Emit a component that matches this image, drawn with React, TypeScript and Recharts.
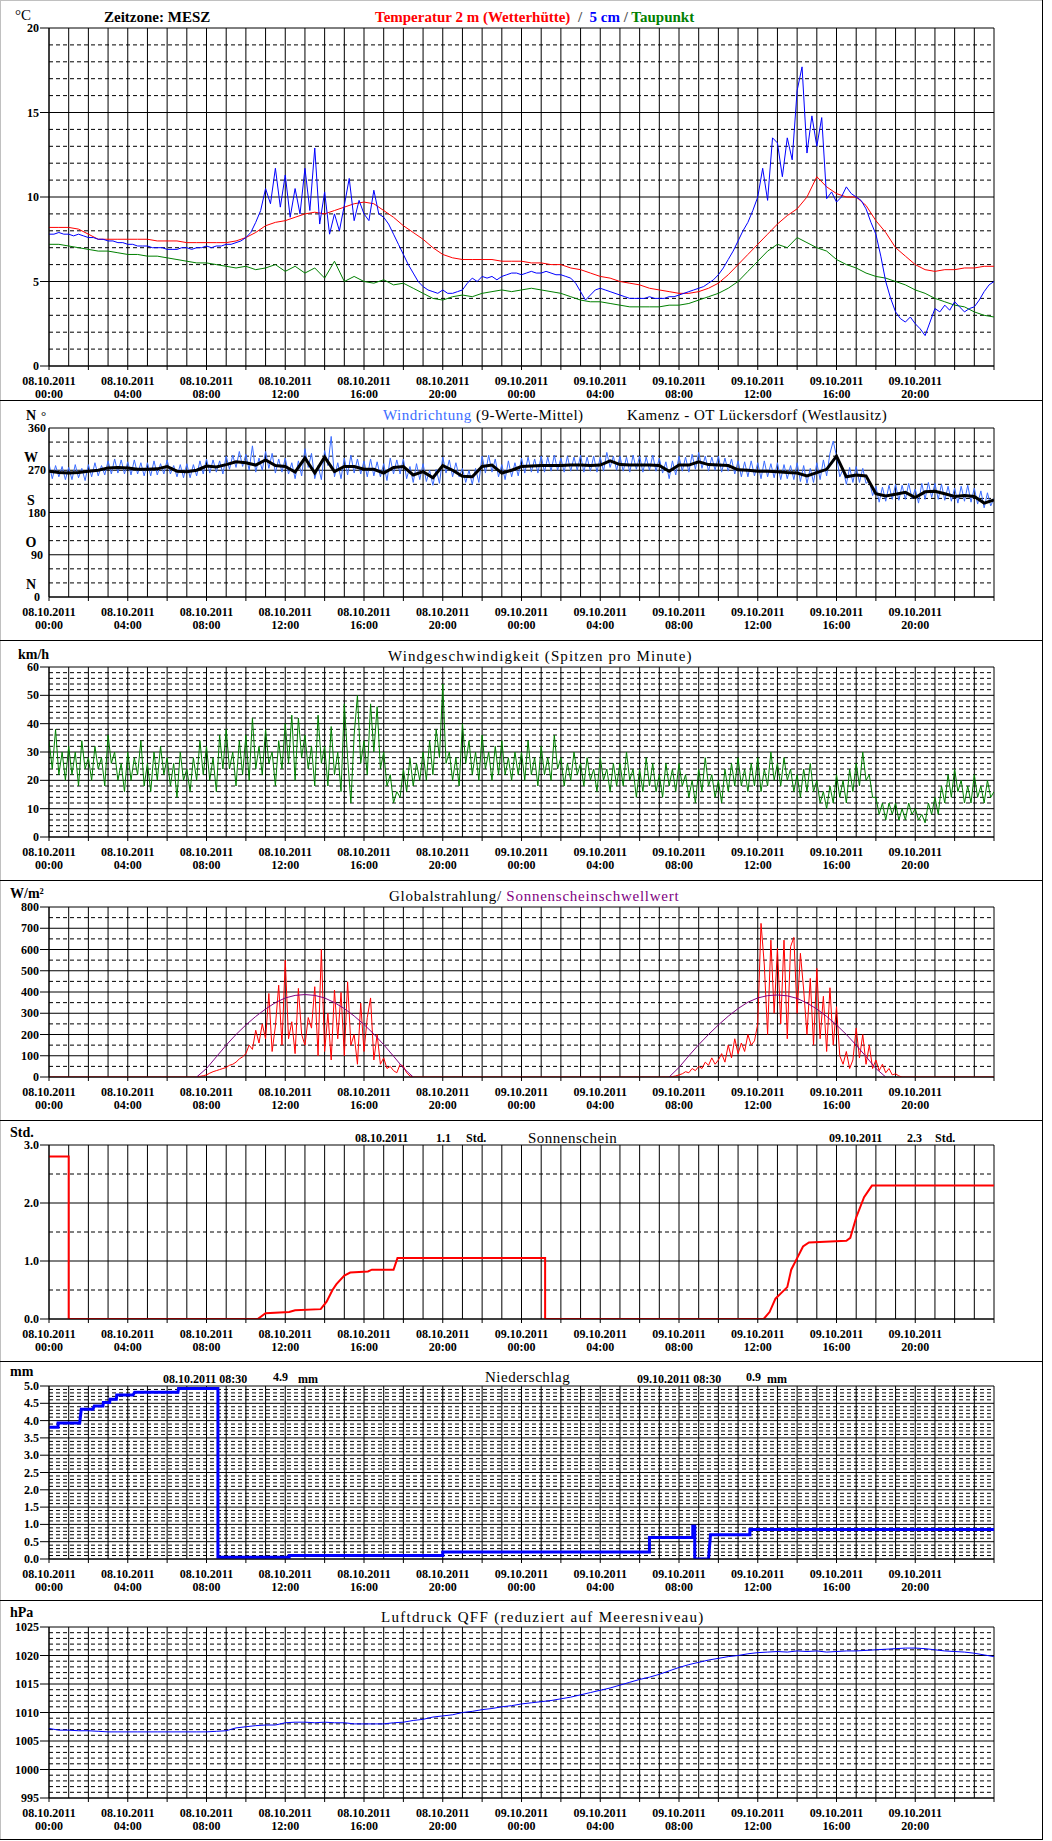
import React from "react";
import { LineChart, Line, XAxis, YAxis, CartesianGrid } from "recharts";

const FONT = '"Liberation Serif", "Times New Roman", serif';
const W = 1052;

// time axis in hours since 08.10.2011 00:00 (MESZ)
const HOURS = Array.from({ length: 49 }, (_, i) => i);
const TICK_HOURS = HOURS.filter((h) => h % 2 === 0);
const DAYS = ["08.10.2011", "09.10.2011"];

// Temperatur 2 m, every 30 min
const temp2m = [
  8.2, 8.2, 8.2, 8.1, 7.8, 7.5, 7.5, 7.5, 7.5, 7.5, 7.5, 7.4, 7.4, 7.4, 7.3, 7.3,
  7.3, 7.3, 7.3, 7.4, 7.6, 7.9, 8.3, 8.5, 8.6, 8.8, 9.0, 9.1, 9.0, 9.2, 9.4, 9.6,
  9.7, 9.6, 9.2, 8.8, 8.3, 7.9, 7.5, 7.0, 6.6, 6.4, 6.3, 6.3, 6.3, 6.3, 6.2, 6.2,
  6.2, 6.1, 6.1, 6.0, 6.0, 5.8, 5.7, 5.5, 5.3, 5.2, 5.0, 4.9, 4.8, 4.6, 4.5, 4.4,
  4.3, 4.3, 4.4, 4.6, 4.9, 5.4, 6.0, 6.6, 7.2, 7.8, 8.4, 8.9, 9.3, 10.0, 11.2, 10.6,
  10.2, 10.0, 10.0, 9.5, 8.6, 7.9, 7.0, 6.5, 6.0, 5.7, 5.6, 5.7, 5.7, 5.8, 5.8, 5.9,
  5.9,
];

// Temperatur 5 cm, every 15 min
const temp5cm = [
  7.8, 7.8, 7.9, 7.8, 7.8, 7.7, 7.8, 7.7, 7.6, 7.6, 7.5, 7.5, 7.4, 7.4, 7.3, 7.3,
  7.2, 7.2, 7.1, 7.1, 7.1, 7.0, 7.0, 7.0, 6.9, 6.9, 6.9, 7.0, 7.0, 6.9, 7.0, 7.0,
  7.1, 7.0, 7.1, 7.1, 7.2, 7.2, 7.3, 7.4, 7.6, 7.9, 8.5, 9.2, 10.5, 9.6, 11.7, 9.4,
  11.3, 8.8, 10.5, 9.0, 11.7, 9.2, 12.9, 8.4, 10.3, 7.8, 9.0, 8.0, 9.5, 11.1, 8.6, 9.8,
  9.0, 8.6, 10.4, 9.0, 8.8, 8.4, 7.8, 7.2, 6.6, 6.0, 5.5, 5.0, 4.7, 4.5, 4.4, 4.3,
  4.5, 4.3, 4.3, 4.4, 4.5, 4.9, 5.2, 5.0, 5.3, 5.2, 5.3, 5.1, 5.3, 5.4, 5.5, 5.5,
  5.4, 5.5, 5.6, 5.5, 5.5, 5.6, 5.5, 5.4, 5.4, 5.3, 5.2, 4.9, 4.4, 3.9, 4.2, 4.5,
  4.6, 4.5, 4.4, 4.3, 4.2, 4.1, 4.0, 4.0, 4.0, 4.0, 4.1, 4.0, 4.0, 4.0, 4.1, 4.1,
  4.2, 4.3, 4.4, 4.5, 4.6, 4.7, 4.9, 5.1, 5.4, 5.8, 6.3, 6.8, 7.4, 8.0, 8.5, 9.2,
  10.0, 11.7, 9.8, 13.5, 13.2, 11.2, 13.5, 12.2, 16.3, 17.7, 12.6, 14.8, 13.0, 14.7, 9.9, 10.3,
  9.7, 10.0, 10.6, 10.2, 10.0, 9.8, 9.3, 8.5, 7.8, 6.5, 5.0, 4.0, 3.2, 2.8, 2.6, 2.9,
  2.5, 2.2, 1.8, 2.6, 3.4, 3.2, 3.6, 3.3, 3.8, 3.5, 3.2, 3.4, 3.5, 3.9, 4.4, 4.8,
  5.0,
];

// Taupunkt, every 30 min
const dewPoint = [
  7.2, 7.2, 7.1, 7.0, 6.9, 6.8, 6.8, 6.7, 6.6, 6.6, 6.5, 6.5, 6.4, 6.3, 6.2, 6.1,
  6.1, 6.0, 5.9, 5.8, 5.9, 5.7, 5.8, 6.0, 5.6, 5.9, 5.5, 5.8, 5.2, 6.2, 5.0, 5.3,
  5.0, 4.9, 5.1, 4.8, 4.9, 4.6, 4.3, 4.0, 3.9, 4.1, 4.2, 4.1, 4.3, 4.4, 4.5, 4.4,
  4.5, 4.6, 4.5, 4.4, 4.3, 4.1, 3.9, 3.8, 3.8, 3.7, 3.6, 3.5, 3.5, 3.5, 3.5, 3.6,
  3.6, 3.7, 3.9, 4.1, 4.3, 4.6, 5.0, 5.6, 6.2, 6.8, 7.2, 7.0, 7.6, 7.3, 7.0, 6.8,
  6.3, 6.0, 5.8, 5.5, 5.3, 5.2, 5.0, 4.8, 4.5, 4.3, 4.0, 3.8, 3.6, 3.5, 3.2, 3.0,
  2.9,
];

// Windrichtung 9-Werte-Mittel, every 30 min
const windDirMean = [
  268, 265, 264, 265, 268, 270, 275, 276, 275, 272, 272, 273, 278, 268, 267, 270,
  279, 277, 282, 288, 286, 281, 292, 280, 278, 266, 296, 264, 298, 267, 278, 278,
  272, 272, 264, 276, 278, 260, 267, 254, 280, 270, 257, 256, 278, 281, 264, 270,
  278, 279, 280, 280, 280, 281, 281, 280, 281, 290, 282, 281, 281, 281, 280, 268,
  281, 281, 288, 282, 281, 280, 271, 270, 268, 268, 267, 265, 264, 258, 265, 272,
  300, 256, 260, 258, 220, 215, 219, 223, 212, 224, 225, 220, 214, 216, 214, 200,
  207,
];

// Windrichtung Einzelwerte, every 10 min
const windDirRaw = [
  284, 252, 280, 256, 278, 250, 276, 250, 282, 254, 274, 248,
  282, 256, 286, 258, 280, 260, 290, 262, 294, 264, 292, 262,
  288, 260, 292, 262, 286, 258, 286, 258, 290, 260, 284, 262,
  292, 262, 280, 256, 282, 254, 284, 254, 282, 258, 290, 262,
  294, 264, 292, 266, 290, 262, 300, 272, 302, 276, 310, 278,
  304, 270, 322, 266, 296, 270, 310, 274, 306, 264, 294, 266,
  296, 262, 286, 252, 290, 258, 316, 276, 306, 252, 280, 250,
  312, 280, 342, 256, 286, 252, 296, 260, 302, 264, 294, 262,
  290, 256, 294, 258, 288, 256, 284, 248, 296, 262, 292, 262,
  294, 252, 278, 244, 284, 250, 284, 246, 270, 238, 272, 242,
  298, 264, 292, 256, 286, 256, 274, 244, 270, 240, 274, 244,
  300, 264, 302, 266, 294, 256, 282, 250, 290, 256, 286, 258,
  296, 264, 298, 266, 294, 264, 300, 266, 298, 268, 302, 270,
  296, 266, 300, 268, 298, 270, 302, 266, 298, 268, 300, 266,
  298, 268, 308, 276, 300, 270, 300, 268, 298, 266, 302, 272,
  300, 266, 298, 270, 302, 268, 296, 264, 288, 252, 290, 260,
  300, 268, 298, 266, 304, 272, 308, 274, 300, 268, 298, 270,
  300, 266, 296, 268, 294, 262, 290, 256, 288, 256, 290, 258,
  286, 252, 290, 256, 284, 254, 286, 250, 282, 252, 280, 250,
  286, 246, 280, 242, 274, 244, 286, 250, 292, 258, 306, 332,
  300, 256, 272, 240, 276, 244, 278, 244, 274, 242, 248, 216,
  236, 202, 234, 204, 238, 208, 240, 206, 238, 208, 242, 210,
  230, 200, 242, 208, 244, 212, 242, 208, 240, 206, 236, 204,
  232, 200, 236, 204, 238, 202, 232, 198, 226, 190, 222, 194,
  210,
];

// Windgeschwindigkeit (Spitzen pro Minute), every 10 min
const windSpeed = [
  34, 24, 38, 22, 30, 20, 32, 22, 30, 18, 34, 24,
  28, 20, 32, 24, 28, 18, 36, 26, 30, 20, 26, 16,
  30, 20, 28, 22, 34, 18, 26, 16, 30, 20, 32, 22,
  28, 18, 26, 14, 30, 20, 24, 16, 28, 20, 34, 22,
  32, 20, 28, 16, 36, 24, 38, 24, 30, 18, 34, 22,
  36, 20, 42, 24, 32, 22, 38, 26, 30, 18, 34, 24,
  40, 26, 43, 20, 42, 28, 36, 24, 32, 18, 43, 26,
  32, 18, 39, 22, 30, 16, 47, 28, 12, 36, 50, 26,
  34, 22, 47, 30, 46, 24, 30, 18, 22, 12, 16, 14,
  24, 16, 28, 18, 26, 20, 30, 20, 34, 22, 38, 28,
  54, 26, 30, 20, 28, 18, 40, 26, 34, 22, 30, 20,
  36, 24, 30, 20, 32, 22, 34, 22, 28, 20, 30, 22,
  30, 20, 34, 22, 28, 18, 32, 22, 28, 20, 36, 24,
  28, 18, 26, 20, 30, 22, 26, 18, 28, 20, 24, 16,
  28, 20, 24, 16, 26, 18, 26, 18, 30, 20, 24, 14,
  24, 16, 28, 18, 26, 16, 22, 14, 26, 18, 24, 16,
  26, 18, 22, 14, 20, 12, 24, 16, 28, 18, 22, 14,
  20, 12, 24, 16, 26, 18, 28, 18, 24, 16, 26, 18,
  28, 16, 24, 18, 30, 20, 26, 18, 28, 20, 24, 16,
  22, 14, 24, 16, 26, 16, 20, 12, 16, 10, 18, 12,
  22, 14, 20, 12, 24, 16, 26, 18, 30, 20, 22, 14,
  14, 8, 12, 6, 12, 8, 12, 6, 10, 6, 12, 8,
  10, 6, 8, 5, 12, 8, 14, 8, 18, 12, 22, 14,
  24, 16, 20, 12, 18, 12, 22, 14, 18, 12, 20, 14,
  16,
];

// Globalstrahlung, every 10 min from 07:30 (day 1) and 07:30 (day 2)
const radiationDay1 = [
  0, 3, 6,
  10, 18, 25, 30, 35, 40,
  45, 55, 60, 70, 85, 95,
  110, 150, 130, 220, 160, 250,
  180, 393, 120, 240, 432, 150,
  550, 180, 260, 110, 417, 200,
  150, 280, 230, 425, 100, 600,
  120, 300, 80, 409, 180, 398,
  100, 448, 150, 200, 60, 348,
  120, 280, 372, 80, 200, 60,
  90, 40, 50, 30, 20, 60,
  50, 20, 5, 0,
];
const radiationDay2 = [
  0, 2, 5,
  10, 15, 25, 20, 40, 30,
  50, 40, 70, 55, 90, 60,
  80, 110, 70, 150, 90, 180,
  110, 160, 120, 200, 150, 170,
  250, 723, 527, 200, 644, 300,
  605, 250, 644, 180, 613, 657,
  300, 582, 409, 200, 464, 150,
  511, 180, 380, 120, 420, 150,
  331, 100, 60, 120, 40, 80,
  230, 90, 200, 60, 150, 40,
  80, 30, 60, 20, 40, 10,
  15, 5, 0,
];

// Sonnenscheinschwellwert, every 30 min from 07:30
const thresholdDay1 = [0, 40, 95, 150, 200, 245, 285, 320, 350, 372, 384, 388, 384, 372, 350, 322, 287, 247, 202, 152, 98, 42, 0];
const thresholdDay2 = [0, 45, 100, 152, 200, 245, 286, 322, 352, 372, 383, 386, 382, 370, 348, 320, 285, 245, 200, 150, 96, 40, 0];

// Sonnenschein summe [hour, Std.]
const sunshine = [
  [0, 2.8], [1.0, 2.8], [1.0, 0], [10.6, 0], [11.0, 0.1], [12.2, 0.12], [12.5, 0.15],
  [13.8, 0.17], [14.1, 0.3], [14.4, 0.5], [14.6, 0.6], [15.0, 0.75], [15.3, 0.8],
  [16.2, 0.82], [16.4, 0.85], [17.5, 0.85], [17.7, 1.05], [25.2, 1.05], [25.2, 0],
  [36.3, 0], [36.6, 0.12], [36.9, 0.35], [37.2, 0.45], [37.5, 0.55], [37.7, 0.85],
  [38.0, 1.05], [38.3, 1.25], [38.6, 1.32], [40.5, 1.35], [40.7, 1.4], [41.0, 1.75],
  [41.4, 2.1], [41.8, 2.3], [48, 2.3],
];

// Niederschlag summe [hour, mm]
const precipitation = [
  [0, 3.81], [0.46, 3.81], [0.46, 3.93], [1.56, 3.93], [1.64, 4.33], [2.23, 4.33],
  [2.3, 4.42], [2.74, 4.42], [2.76, 4.52], [3.08, 4.52], [3.1, 4.62], [3.42, 4.62],
  [3.44, 4.74], [4.27, 4.74], [4.35, 4.82], [6.55, 4.82], [6.58, 4.93], [8.58, 4.93],
  [8.58, 0.05], [12.2, 0.05], [12.2, 0.1], [20, 0.1], [20, 0.2], [30.5, 0.2],
  [30.5, 0.62], [32.7, 0.62], [32.7, 0.95], [32.8, 0.95], [32.8, 0], [33.5, 0],
  [33.6, 0.7], [35.6, 0.7], [35.6, 0.85], [48, 0.85],
];

// Luftdruck QFF, every 30 min
const pressure = [
  1007.2, 1006.9, 1006.9, 1006.8, 1006.8, 1006.7, 1006.6, 1006.6, 1006.6, 1006.6, 1006.6, 1006.6,
  1006.6, 1006.6, 1006.6, 1006.6, 1006.6, 1006.7, 1006.8, 1007.3, 1007.5, 1007.7, 1007.8, 1007.8,
  1008.2, 1008.3, 1008.3, 1008.2, 1008.3, 1008.2, 1008.2, 1008.0, 1008.0, 1008.0, 1008.0, 1008.2,
  1008.3, 1008.6, 1008.8, 1009.2, 1009.4, 1009.6, 1010.0, 1010.2, 1010.5, 1010.7, 1011.0, 1011.2,
  1011.5, 1011.7, 1011.9, 1012.1, 1012.4, 1012.7, 1013.1, 1013.5, 1013.9, 1014.3, 1014.8, 1015.3,
  1015.8, 1016.2, 1016.7, 1017.3, 1017.9, 1018.4, 1018.8, 1019.2, 1019.5, 1019.8, 1020.0, 1020.3,
  1020.5, 1020.6, 1020.7, 1020.6, 1020.8, 1020.7, 1020.8, 1020.6, 1020.7, 1020.8, 1020.8, 1020.9,
  1021.0, 1021.1, 1021.2, 1021.3, 1021.3, 1021.2, 1021.0, 1020.8, 1020.7, 1020.6, 1020.4, 1020.1,
  1019.8,
];

const toSeries = (vals: number[], step: number, start = 0) =>
  vals.map((v, i) => ({ t: start + i * step, v }));
const toPoints = (pairs: number[][]) => pairs.map(([t, v]) => ({ t, v }));

const steps = (a: number, b: number, s: number) => {
  const out: number[] = [];
  for (let i = 0; a + i * s <= b + 1e-9; i++) out.push(+(a + i * s).toFixed(3));
  return out;
};
const minorOf = (a: number, b: number, s: number, major: number[]) =>
  steps(a, b, s).filter((v) => !major.some((m) => Math.abs(m - v) < 1e-6));

function TimeTick({ x, y, payload }: any) {
  const h = payload.value;
  if (h % 4 !== 0 || h >= 48) return <g />;
  const hh = String(h % 24).padStart(2, "0") + ":00";
  const st = { fontFamily: FONT, fontSize: 12, fontWeight: "bold" as const, fill: "#000" };
  return (
    <g>
      <text x={x} y={y + 13} textAnchor="middle" {...st}>{DAYS[Math.floor(h / 24)]}</text>
      <text x={x} y={y + 26} textAnchor="middle" {...st}>{hh}</text>
    </g>
  );
}

type PanelProps = {
  top: number;
  bottom: number;
  plotTop: number;
  plotBottom: number;
  domain: [number, number];
  major: number[];
  minor: number[];
  fmt: (v: number) => string;
  letters?: Record<number, string>;
  children: React.ReactNode;
};

function Panel({ top, bottom, plotTop, plotBottom, domain, major, minor, fmt, letters, children }: PanelProps) {
  const height = bottom - top;
  const yTick = ({ y, payload }: any) => {
    const st = { fontFamily: FONT, fontSize: 12, fontWeight: "bold" as const, fill: "#000" };
    if (letters) {
      return (
        <g>
          <text x={31} y={y - 8} textAnchor="middle" {...st} fontSize={14}>{letters[payload.value]}</text>
          <text x={37} y={y + 4} textAnchor="middle" {...st}>{fmt(payload.value)}</text>
        </g>
      );
    }
    return <text x={39} y={y + 4} textAnchor="end" {...st}>{fmt(payload.value)}</text>;
  };
  return (
    <div style={{ position: "absolute", left: 0, top, width: W, height }}>
      <LineChart width={W} height={height} margin={{ top: plotTop - top, right: 58, bottom: 0, left: 0 }}>
        <CartesianGrid horizontalValues={minor} vertical={false} stroke="#000" strokeDasharray="4 3" />
        <CartesianGrid horizontalValues={major} verticalValues={HOURS} stroke="#000" />
        <XAxis
          type="number"
          dataKey="t"
          domain={[0, 48]}
          ticks={TICK_HOURS}
          interval={0}
          height={bottom - plotBottom}
          tickSize={4}
          axisLine={{ stroke: "#000" }}
          tickLine={{ stroke: "#000" }}
          tick={<TimeTick />}
          allowDataOverflow
        />
        <YAxis
          type="number"
          domain={domain}
          ticks={major}
          interval={0}
          width={49}
          tickSize={letters ? 0 : 9}
          axisLine={{ stroke: "#000" }}
          tickLine={{ stroke: "#000" }}
          tick={yTick}
          allowDataOverflow
        />
        {children}
      </LineChart>
    </div>
  );
}

const lineProps = { type: "linear" as const, dataKey: "v", dot: false, isAnimationActive: false, activeDot: false };

export default function App() {
  const tMajor = [0, 5, 10, 15, 20];
  const dMajor = [0, 90, 180, 270, 360];
  const sMajor = steps(0, 60, 10);
  const rMajor = steps(0, 800, 100);
  const shMajor = [0, 1, 2, 3];
  const pMajor = steps(0, 5, 0.5);
  const qMajor = steps(995, 1025, 5);

  const radiation = [
    { t: 0, v: 0 },
    ...toSeries(radiationDay1, 1 / 6, 7.5),
    ...toSeries(radiationDay2, 1 / 6, 31.5),
    { t: 48, v: 0 },
  ];

  const txt = { fontFamily: FONT, fill: "#000" };
  const title = { ...txt, fontSize: 15, letterSpacing: 0.5 };
  const bold12 = { ...txt, fontSize: 12, fontWeight: "bold" as const };
  const unit = { ...txt, fontSize: 14, fontWeight: "bold" as const };

  return (
    <div style={{ position: "relative", width: W, height: 1841, background: "#fff", overflow: "hidden" }}>
      <style>{"body{margin:0}"}</style>

      <Panel top={0} bottom={400} plotTop={28} plotBottom={366} domain={[0, 20]} major={tMajor}
        minor={minorOf(0, 20, 1, tMajor)} fmt={(v) => String(v)}>
        <Line {...lineProps} data={toSeries(temp2m, 0.5)} stroke="#ff0000" strokeWidth={1} />
        <Line {...lineProps} data={toSeries(dewPoint, 0.5)} stroke="#008000" strokeWidth={1} />
        <Line {...lineProps} data={toSeries(temp5cm, 0.25)} stroke="#0000ff" strokeWidth={1} />
      </Panel>

      <Panel top={400} bottom={640} plotTop={428} plotBottom={597} domain={[0, 360]} major={dMajor}
        minor={minorOf(0, 360, 30, dMajor)} fmt={(v) => String(v)}
        letters={{ 360: "N", 270: "W", 180: "S", 90: "O", 0: "N" }}>
        <Line {...lineProps} data={toSeries(windDirRaw, 1 / 6)} stroke="#3a6cff" strokeWidth={1} />
        <Line {...lineProps} data={toSeries(windDirMean, 0.5)} stroke="#000" strokeWidth={3} />
      </Panel>

      <Panel top={640} bottom={880} plotTop={667} plotBottom={837} domain={[0, 60]} major={sMajor}
        minor={minorOf(0, 60, 2, sMajor)} fmt={(v) => String(v)}>
        <Line {...lineProps} data={toSeries(windSpeed, 1 / 6)} stroke="#008000" strokeWidth={1} />
      </Panel>

      <Panel top={880} bottom={1120} plotTop={907} plotBottom={1077} domain={[0, 800]} major={rMajor}
        minor={minorOf(0, 800, 50, rMajor)} fmt={(v) => String(v)}>
        <Line {...lineProps} data={radiation} stroke="#ff0000" strokeWidth={1} />
        <Line {...lineProps} data={toSeries(thresholdDay1, 0.5, 7.5)} stroke="#800080" strokeWidth={1} />
        <Line {...lineProps} data={toSeries(thresholdDay2, 0.5, 31.5)} stroke="#800080" strokeWidth={1} />
      </Panel>

      <Panel top={1120} bottom={1361} plotTop={1145} plotBottom={1319} domain={[0, 3]} major={shMajor}
        minor={minorOf(0, 3, 0.5, shMajor)} fmt={(v) => v.toFixed(1)}>
        <Line {...lineProps} data={toPoints(sunshine)} stroke="#ff0000" strokeWidth={2} />
      </Panel>

      <Panel top={1361} bottom={1600} plotTop={1386} plotBottom={1559} domain={[0, 5]} major={pMajor}
        minor={minorOf(0, 5, 0.1, pMajor)} fmt={(v) => v.toFixed(1)}>
        <Line {...lineProps} data={toPoints(precipitation)} stroke="#0000ff" strokeWidth={3} />
      </Panel>

      <Panel top={1600} bottom={1840} plotTop={1627} plotBottom={1798} domain={[995, 1025]} major={qMajor}
        minor={minorOf(995, 1025, 1, qMajor)} fmt={(v) => String(v)}>
        <Line {...lineProps} data={toSeries(pressure, 0.5)} stroke="#0000ff" strokeWidth={1} />
      </Panel>

      <svg width={W} height={1841} style={{ position: "absolute", left: 0, top: 0, pointerEvents: "none" }}>
        <rect x={0.5} y={0.5} width={1042} height={1839} fill="none" stroke="#c0c0c0" />
        {[400, 640, 880, 1120, 1361, 1600, 1839].map((y) => (
          <line key={y} x1={0} x2={1043} y1={y + 0.5} y2={y + 0.5} stroke="#000" />
        ))}
        <line x1={1042.5} x2={1042.5} y1={0} y2={1840} stroke="#000" />

        {/* Temperatur */}
        <text x={15} y={20} {...txt} fontSize={15}>°C</text>
        <text x={104} y={22} {...txt} fontSize={15} fontWeight="bold">Zeitzone: MESZ</text>
        <text x={375} y={22} {...txt} fontSize={15} fontWeight="bold" style={{ whiteSpace: "pre" }}>
          <tspan fill="#ff0000">Temperatur 2 m (Wetterhütte)</tspan>
          <tspan fill="#555">{"  /  "}</tspan>
          <tspan fill="#0000ff">5 cm</tspan>
          <tspan fill="#555">{" / "}</tspan>
          <tspan fill="#008000">Taupunkt</tspan>
        </text>

        {/* Windrichtung */}
        <text x={41} y={420} {...txt} fontSize={13}>°</text>
        <text x={383} y={420} {...title} style={{ whiteSpace: "pre" }}>
          <tspan fill="#3a6cff">Windrichtung</tspan>
          <tspan fill="#000">{" (9-Werte-Mittel)"}</tspan>
        </text>
        <text x={627} y={420} {...title}>Kamenz - OT Lückersdorf (Westlausitz)</text>

        {/* Windgeschwindigkeit */}
        <text x={18} y={659} {...unit}>km/h</text>
        <text x={388} y={661} {...title} letterSpacing={1.1}>Windgeschwindigkeit (Spitzen pro Minute)</text>

        {/* Globalstrahlung */}
        <text x={10} y={898} {...unit}>W/m²</text>
        <text x={389} y={901} {...title} letterSpacing={0.75} style={{ whiteSpace: "pre" }}>
          <tspan fill="#000">{"Globalstrahlung/ "}</tspan>
          <tspan fill="#800080">Sonnenscheinschwellwert</tspan>
        </text>

        {/* Sonnenschein */}
        <text x={10} y={1137} {...unit}>Std.</text>
        <text x={355} y={1142} {...bold12}>08.10.2011</text>
        <text x={436} y={1142} {...bold12}>1.1</text>
        <text x={466} y={1142} {...bold12}>Std.</text>
        <text x={528} y={1143} {...title}>Sonnenschein</text>
        <text x={829} y={1142} {...bold12}>09.10.2011</text>
        <text x={907} y={1142} {...bold12}>2.3</text>
        <text x={935} y={1142} {...bold12}>Std.</text>

        {/* Niederschlag */}
        <text x={10} y={1376} {...unit}>mm</text>
        <text x={163} y={1383} {...bold12}>08.10.2011 08:30</text>
        <text x={273} y={1381} {...bold12}>4.9</text>
        <text x={298} y={1383} {...bold12}>mm</text>
        <text x={485} y={1382} {...title}>Niederschlag</text>
        <text x={637} y={1383} {...bold12}>09.10.2011 08:30</text>
        <text x={746} y={1381} {...bold12}>0.9</text>
        <text x={767} y={1383} {...bold12}>mm</text>

        {/* Luftdruck */}
        <text x={10} y={1617} {...unit}>hPa</text>
        <text x={381} y={1622} {...title} letterSpacing={1.3}>Luftdruck QFF (reduziert auf Meeresniveau)</text>
      </svg>
    </div>
  );
}
